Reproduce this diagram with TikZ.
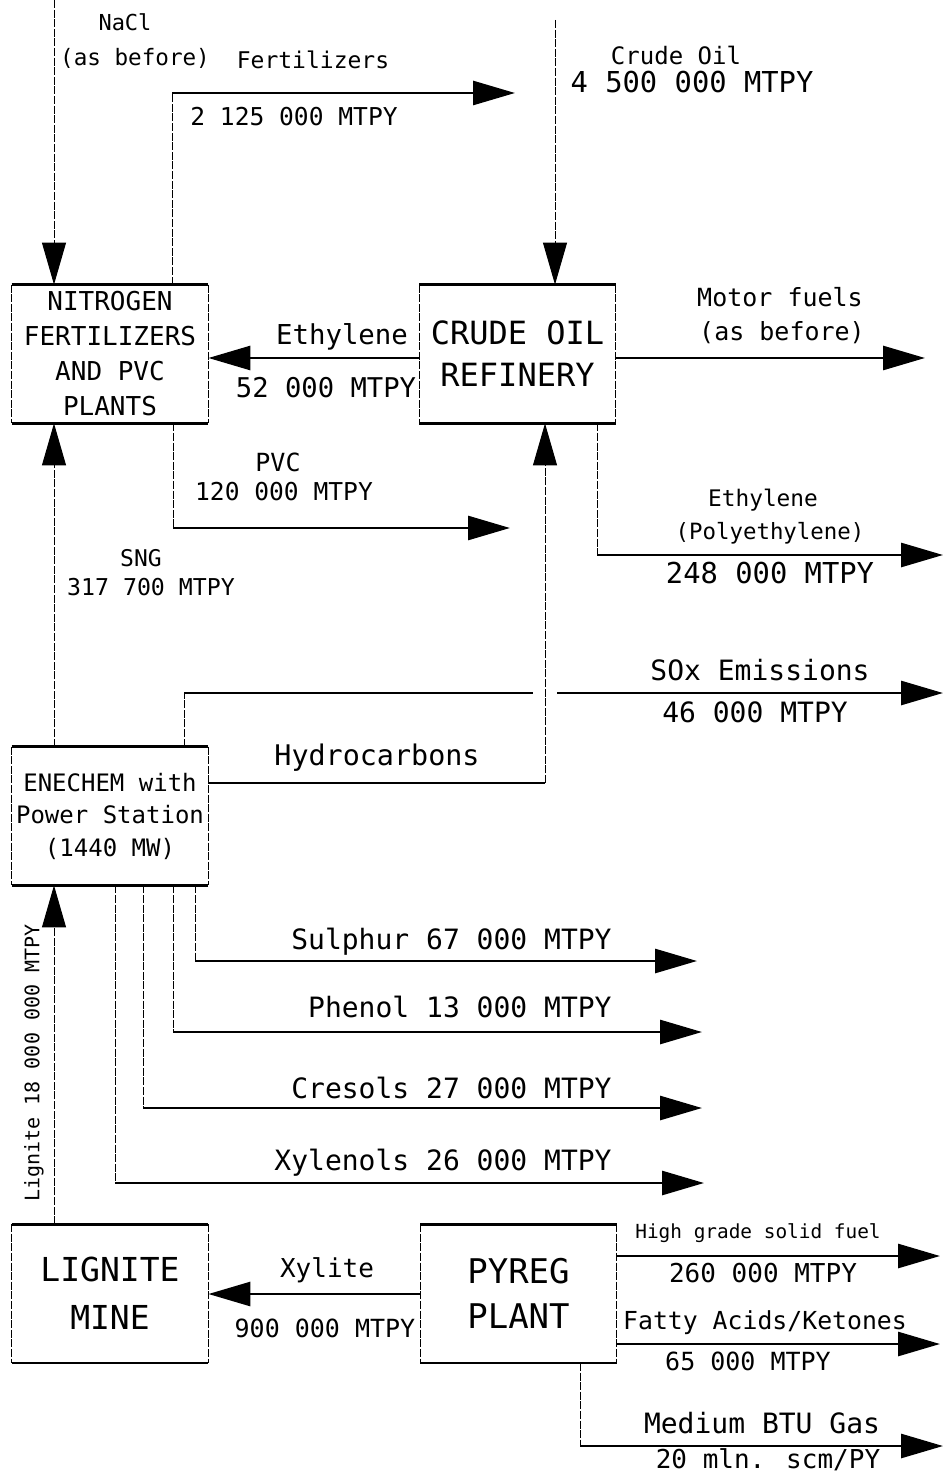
\documentclass[tikz,border=0pt]{standalone}
\usepackage{fontspec}
\newfontfamily\plotfont{DejaVu Sans Mono}
\usetikzlibrary{arrows.meta}

\tikzset{
  plant/.style={minimum width=98pt,minimum height=69pt,inner sep=0pt,align=center},
  edge/.style={line width=1.4pt},
  side/.style={line width=0.5pt,dash pattern=on 4pt off 0.8pt},
  flow/.style={line width=1.4pt},
  feed/.style={line width=0.5pt,dash pattern=on 4pt off 0.8pt},
  head/.style={-{Triangle[length=21pt,width=12pt]}},
  txt/.style={inner sep=0pt,font=\plotfont\fontsize{#1}{#1}\selectfont},
}
% box outline: heavy top and bottom, light dashed sides
\newcommand{\plantedges}[1]{%
  \draw[edge] (#1.north west) -- (#1.north east);
  \draw[edge] (#1.south west) -- (#1.south east);
  \draw[side] (#1.north west) -- (#1.south west);
  \draw[side] (#1.north east) -- (#1.south east);}

\begin{document}
\begin{tikzpicture}[x=0.5pt,y=-0.5pt]
  \useasboundingbox (0,0) rectangle (945,1475);

  % plants
  \node[plant,font=\plotfont\fontsize{13}{17.5}\selectfont] (nit) at (110,354) {NITROGEN\\FERTILIZERS\\AND PVC\\PLANTS};
  \node[plant,font=\plotfont\fontsize{16}{21}\selectfont] (ref) at (517.5,354) {CRUDE OIL\\REFINERY};
  \node[plant,font=\plotfont\fontsize{12}{16.25}\selectfont] (ene) at (110,816) {ENECHEM with\\Power Station\\(1440 MW)};
  \node[plant,font=\plotfont\fontsize{16.5}{24}\selectfont] (lig) at (110,1293.5) {LIGNITE\\MINE};
  \node[plant,font=\plotfont\fontsize{17}{22.5}\selectfont] (pyr) at (518.5,1293.5) {PYREG\\PLANT};
  \foreach \b in {nit,ref,ene,lig,pyr}{\plantedges{\b}}

  % free ends and bends
  \coordinate (nacl) at (54,0);
  \coordinate (crude) at (555,20);
  \coordinate (fertc) at (172,93);   \coordinate (fertout) at (515,93);
  \coordinate (ethy) at (0,358);     \coordinate (motorout) at (925,358);
  \coordinate (pvcc) at (173,528);   \coordinate (pvcout) at (510,528);
  \coordinate (polyc) at (597,555);  \coordinate (polyout) at (943,555);
  \coordinate (soxc) at (184,693);   \coordinate (soxa) at (533,693);
  \coordinate (soxb) at (557,693);   \coordinate (soxout) at (943,693);
  \coordinate (hcc) at (545,783);
  \coordinate (xyl) at (0,1294);
  \coordinate (solid) at (940,1256); \coordinate (fatty) at (940,1344);
  \coordinate (btuc) at (580,1446);  \coordinate (btuout) at (943,1446);

  % inputs
  \draw[feed,head] (nacl) -- (nacl |- nit.north);
  \draw[feed,head] (crude) -- (crude |- ref.north);
  \draw[feed,head] (ene.north -| nacl) -- (nit.south -| nacl);
  \draw[feed,head] (lig.north -| nacl) -- (ene.south -| nacl);

  % nitrogen and refinery streams
  \draw[feed] (nit.north -| fertc) -- (fertc);
  \draw[flow,head] (fertc) -- (fertout);
  \draw[flow,head] (ref.west |- ethy) -- (nit.east |- ethy);
  \draw[flow,head] (ref.east |- ethy) -- (motorout);
  \draw[feed] (nit.south -| pvcc) -- (pvcc);
  \draw[flow,head] (pvcc) -- (pvcout);
  \draw[feed] (ref.south -| polyc) -- (polyc);
  \draw[flow,head] (polyc) -- (polyout);

  % enechem streams
  \draw[flow] (ene.east |- hcc) -- (hcc);
  \draw[feed,head] (hcc) -- (ref.south -| hcc);
  \draw[feed] (ene.north -| soxc) -- (soxc);
  \draw[flow] (soxc) -- (soxa);
  \draw[flow,head] (soxb) -- (soxout);
  \foreach \n/\xc/\yc/\tip/\ly/\lab in {sul/195/961/697/942/Sulphur 67 000 MTPY,
      phe/173/1032/702/1007/Phenol 13 000 MTPY,
      cre/143/1108/702/1088/Cresols 27 000 MTPY,
      xyl/115/1183/704/1163/Xylenols 26 000 MTPY}{
    \coordinate (\n-c) at (\xc,\yc);
    \coordinate (\n-out) at (\tip,\yc);
    \draw[feed] (ene.south -| \n-c) -- (\n-c);
    \draw[flow,head] (\n-c) -- (\n-out);
    \node[txt=14,anchor=east] (\n-lbl) at (612,\ly) {\lab};
  }

  % pyreg streams
  \draw[flow,head] (pyr.west |- xyl) -- (lig.east |- xyl);
  \draw[flow,head] (pyr.east |- solid) -- (solid);
  \draw[flow,head] (pyr.east |- fatty) -- (fatty);
  \draw[feed] (pyr.south -| btuc) -- (btuc);
  \draw[flow,head] (btuc) -- (btuout);

  % labels
  \node[txt=11] (nacl-lbl) at (125,22) {NaCl};
  \node[txt=11.3] (nacl-lbl2) at (135,58) {(as before)};
  \node[txt=11.5] (fert-lbl) at (313,60) {Fertilizers};
  \node[txt=12.3] (fert-amt) at (294,117) {2 125 000 MTPY};
  \node[txt=12] (crude-lbl) at (676,55) {Crude Oil};
  \node[txt=14.4] (crude-amt) at (692,82) {4 500 000 MTPY};
  \node[txt=13.7] (ethy-lbl) at (342,337) {Ethylene};
  \node[txt=13.6] (ethy-amt) at (326,388) {52 000 MTPY};
  \node[txt=12.5] (motor-lbl) at (780,297) {Motor fuels};
  \node[txt=12.5] (motor-lbl2) at (782,333) {(as before)};
  \node[txt=11.4] (poly-lbl) at (763,500) {Ethylene};
  \node[txt=11.2] (poly-lbl2) at (770,533) {(Polyethylene)};
  \node[txt=14.4] (poly-amt) at (770,573) {248 000 MTPY};
  \node[txt=12.5] (pvc-lbl) at (278,462) {PVC};
  \node[txt=12.3] (pvc-amt) at (284,492) {120 000 MTPY};
  \node[txt=11.5] (sng-lbl) at (141,558) {SNG};
  \node[txt=11.6] (sng-amt) at (151,587) {317 700 MTPY};
  \node[txt=14] (sox-lbl) at (760,670) {SOx Emissions};
  \node[txt=14] (sox-amt) at (755,712) {46 000 MTPY};
  \node[txt=14.2] (hc-lbl) at (377,758) {Hydrocarbons};
  \node[txt=10,rotate=90] (lign-lbl) at (34,1063) {Lignite 18 000 000 MTPY};
  \node[txt=13] (xyl-lbl) at (327,1270) {Xylite};
  \node[txt=12.5] (xyl-amt) at (325,1328) {900 000 MTPY};
  \node[txt=9.7] (solid-lbl) at (758,1233) {High grade solid fuel};
  \node[txt=13] (solid-amt) at (763,1273) {260 000 MTPY};
  \node[txt=12.4] (fatty-lbl) at (765,1323) {Fatty Acids/Ketones};
  \node[txt=12.5] (fatty-amt) at (748,1361) {65 000 MTPY};
  \node[txt=14] (btu-lbl) at (762,1423) {Medium BTU Gas};
  \node[txt=13] (btu-amt) at (768,1460) {20 mln. scm/PY};
\end{tikzpicture}
\end{document}
